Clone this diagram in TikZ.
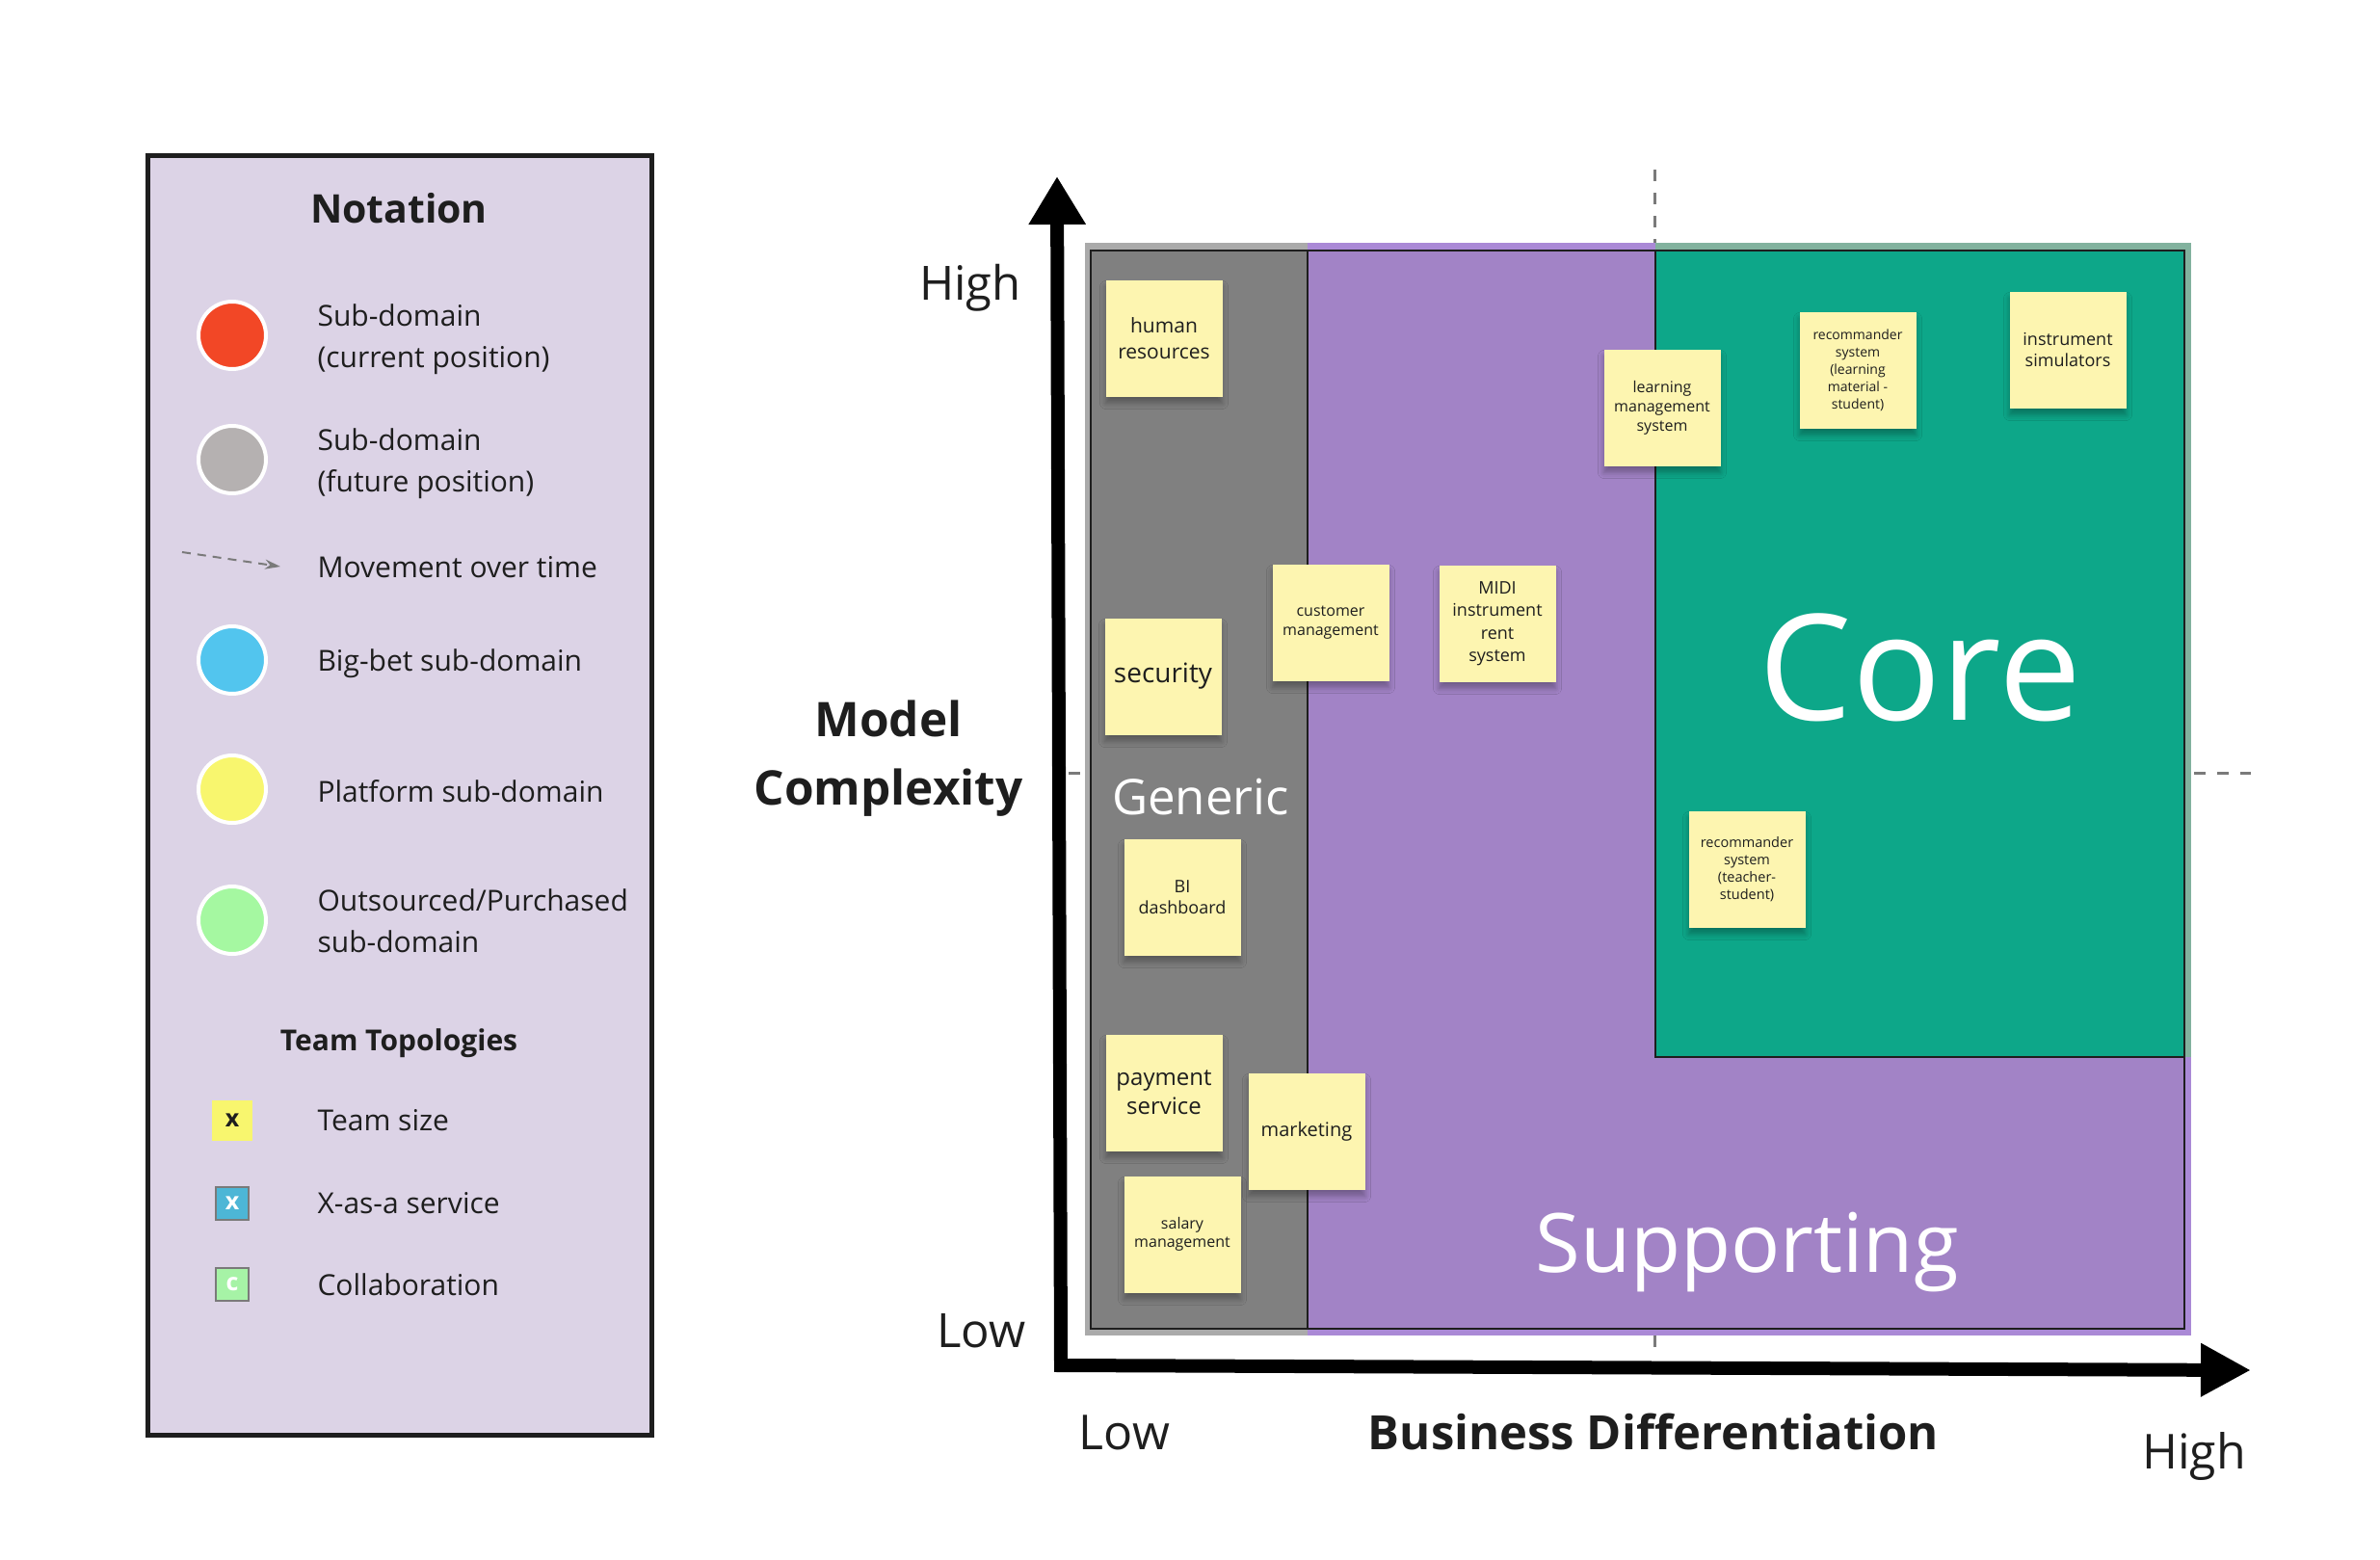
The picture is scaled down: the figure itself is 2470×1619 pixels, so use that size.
\documentclass[tikz,border=0pt]{standalone}
\usepackage{fontspec}
\setmainfont{Open Sans}
\usetikzlibrary{arrows.meta,shadows.blur}
\definecolor{legendbg}{RGB}{220,211,230}
\definecolor{inkdark}{RGB}{30,30,30}
\definecolor{graymain}{RGB}{128,128,128}
\definecolor{graylt}{RGB}{170,170,170}
\definecolor{purplemain}{RGB}{162,131,198}
\definecolor{purplelt}{RGB}{170,137,214}
\definecolor{greenmain}{RGB}{13,167,137}
\definecolor{greenlt}{RGB}{130,178,158}
\definecolor{sticky}{RGB}{253,245,176}
\definecolor{cred}{RGB}{242,71,38}
\definecolor{cgray}{RGB}{181,177,177}
\definecolor{cblue}{RGB}{82,197,238}
\definecolor{cyellow}{RGB}{248,246,110}
\definecolor{cgreen}{RGB}{165,248,161}
\definecolor{sqblue}{RGB}{77,182,214}
\definecolor{sqgreen}{RGB}{166,243,166}
\definecolor{dashgray}{RGB}{122,122,122}
\newcommand{\fs}[2]{\fontsize{#1}{#2}\selectfont}
\tikzset{
  stickynote/.style={rectangle, fill=sticky, minimum width=121pt, minimum height=121pt,
    inner sep=2pt, align=center, text=inkdark,
    blur shadow={shadow xshift=0pt, shadow yshift=-7pt, shadow blur radius=6pt, shadow opacity=30}},
  legcircle/.style={circle, draw=white, line width=4pt, minimum size=70pt, inner sep=0pt},
  legtext/.style={anchor=west, align=left, text=inkdark, font=\fs{30}{43}},
  legsquare/.style={rectangle, inner sep=0pt, font=\bfseries\fs{25}{25}},
  darkline/.style={draw=inkdark, line width=2.5pt},
  quaddash/.style={draw=dashgray, line width=3pt, dash pattern=on 12pt off 12pt},
  axislabel/.style={text=inkdark, font=\fs{50}{54}},
  regionlabel/.style={text=white, anchor=base},
}
\begin{document}
\begin{tikzpicture}[x=1pt,y=-1pt]
\useasboundingbox (0,0) rectangle (2470,1619);
\fill[white] (0,0) rectangle (2470,1619);

% ---------- legend ----------
\draw[fill=legendbg, draw=inkdark, line width=5pt] (153,161) rectangle (676,1489);
\node[font=\bfseries\fs{41}{45}, text=inkdark] (notation) at (414,216) {Notation};

\node[legcircle, fill=cred]    (c1) at (241,348) {};
\node[legcircle, fill=cgray]   (c2) at (241,477) {};
\node[legcircle, fill=cblue]   (c3) at (241,685) {};
\node[legcircle, fill=cyellow] (c4) at (241,819) {};
\node[legcircle, fill=cgreen]  (c5) at (241,955) {};

\node[legtext] (t1) at (326,352) {Sub-domain\\(current position)};
\node[legtext] (t2) at (326,481) {Sub-domain\\(future position)};
\node[legtext] (t3) at (326,589) {Movement over time};
\node[legtext] (t4) at (326,689) {Big-bet sub-domain};
\node[legtext] (t5) at (326,821) {Platform sub-domain};
\node[legtext] (t6) at (326,956) {Outsourced/Purchased\\sub-domain};

\coordinate (mvA) at (189,573);
\coordinate (mvB) at (291,588);
\draw[draw=dashgray, line width=2pt, dash pattern=on 9pt off 7pt,
  -{Stealth[length=16pt,width=10pt]}] (mvA) -- (mvB);

\node[font=\bfseries\fs{30}{34}, text=inkdark] (teamtop) at (414,1083) {Team Topologies};
\node[legsquare, fill=cyellow, minimum size=42pt, text=inkdark] (s1) at (241,1163) {x};
\node[legsquare, fill=sqblue, draw=dashgray, line width=1.5pt, minimum size=34pt, text=white] (s2) at (241,1249) {x};
\node[legsquare, fill=sqgreen, draw=dashgray, line width=1.5pt, minimum size=34pt, text=white] (s3) at (241,1333) {c};
\node[legtext] (u1) at (326,1163) {Team size};
\node[legtext] (u2) at (326,1249) {X-as-a service};
\node[legtext] (u3) at (326,1333) {Collaboration};

% ---------- quadrant dashes ----------
\draw[quaddash] (1717,176) -- (1717,252);
\draw[quaddash] (1717,1386) -- (1717,1406);
\draw[quaddash] (1109,802) -- (1128,802);
\draw[quaddash] (2277,802) -- (2336,802);

% ---------- regions ----------
\fill[graylt]   (1126,252) rectangle (1358,1386);
\fill[purplelt] (1357,252) rectangle (1719,1386);
\fill[greenlt]  (1718,252) rectangle (2274,1097);
\fill[purplelt] (1718,1097) rectangle (2274,1386);
\fill[graymain]   (1132,260) rectangle (1357,1379);
\fill[purplemain] (1357,260) rectangle (2267,1379);
\fill[greenmain]  (1718,260) rectangle (2267,1097);
\draw[darkline] (1132,260) rectangle (2267,1379);
\draw[darkline] (1357,260) -- (1357,1379);
\draw[darkline] (1718,260) -- (1718,1097) -- (2267,1097);

\node[regionlabel, font=\fs{153}{158}] (core) at (1993,747) {Core};
\node[regionlabel, font=\fs{85}{90}] (supporting) at (1813,1320) {Supporting};
\node[regionlabel, font=\fs{51}{55}] (generic) at (1246,845) {Generic};

% ---------- axes ----------
\coordinate (ytip) at (1097,183);
\coordinate (origin) at (1101,1417);
\coordinate (xtip) at (2336,1422);
\draw[line width=14pt, line join=miter,
  {Triangle[length=50pt,width=56pt]}-{Triangle[length=52pt,width=52pt]}]
  (ytip) -- (origin) -- (xtip);

\node[axislabel, anchor=base east, font=\fs{49}{53}] (yhigh) at (1063,311) {High};
\node[axislabel, anchor=base east, font=\fs{49}{53}] (ylow) at (1068,1398) {Low};
\node[axislabel, anchor=base] (xlow) at (1167,1504) {Low};
\node[axislabel, anchor=base] (xhigh) at (2277,1524) {High};
\node[font=\bfseries\fs{49}{53}, text=inkdark, anchor=base] (xtitle) at (1716,1504) {Business Differentiation};
\node[font=\bfseries\fs{49.5}{71}, text=inkdark, align=center] (ytitle) at (922,787) {Model\\Complexity};

% ---------- sticky notes ----------
\node[stickynote, font=\fs{21}{27}] (hr) at (1208,351) {human\\resources};
\node[stickynote, font=\fs{16}{20}] (lms) at (1725,423) {learning\\management\\system};
\node[stickynote, font=\fs{14}{18}] (rec1) at (1928,384) {recommander\\system\\(learning\\material -\\student)};
\node[stickynote, font=\fs{18}{22.5}] (inst) at (2146,363) {instrument\\simulators};
\node[stickynote, font=\fs{28}{32}] (sec) at (1207,702) {security};
\node[stickynote, font=\fs{16}{19.5}] (cust) at (1381,646) {customer\\management};
\node[stickynote, font=\fs{18}{23.5}] (midi) at (1554,647) {MIDI\\instrument\\rent\\system};
\node[stickynote, font=\fs{18}{22}] (bi) at (1227,931) {BI\\dashboard};
\node[stickynote, font=\fs{14.5}{18}] (rec2) at (1813,902) {recommander\\system\\(teacher-\\student)};
\node[stickynote, font=\fs{24}{30}] (pay) at (1208,1134) {payment\\service};
\node[stickynote, font=\fs{20}{24}] (mkt) at (1356,1174) {marketing};
\node[stickynote, font=\fs{16}{19}] (sal) at (1227,1281) {salary\\management};
\end{tikzpicture}
\end{document}
